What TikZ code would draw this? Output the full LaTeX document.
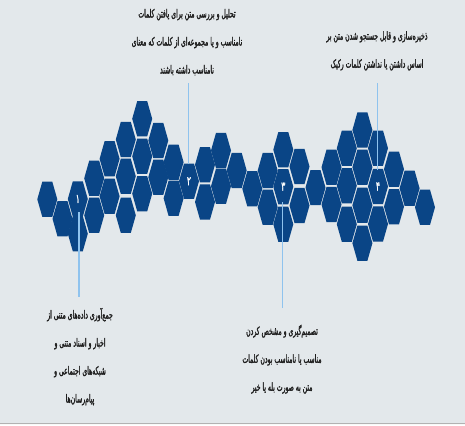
\documentclass[tikz,border=0pt]{standalone}
\usepackage{fontspec}
\TeXXeTstate=1
\newfontfamily\farsi[Script=Arabic,FakeStretch=0.54,FakeBold=1.7]{DejaVu Sans}
\newfontfamily\farsinum[Script=Arabic,FakeStretch=0.6,FakeBold=1.5]{DejaVu Sans}
\definecolor{bgc}{HTML}{E3E8EB}
\definecolor{hexc}{HTML}{0A4586}
\definecolor{linec}{HTML}{8FC3EE}
\definecolor{txtc}{HTML}{1E1E1E}
\tikzset{
  hexa/.pic={\fill[hexc] (-10,0) -- (-5,-17.6) -- (5,-17.6) -- (10,0) -- (5,17.6) -- (-5,17.6) -- cycle;},
  conn/.style={draw=linec,line width=1.4pt},
  stepnote/.style={font=\farsi\fontsize{11.3}{28}\selectfont, align=center, text=txtc, inner sep=0pt},
  hexnum/.style={font=\farsinum\fontsize{12.5}{14}\selectfont, text=white, inner sep=0pt},
}
\begin{document}
\begin{tikzpicture}[x=1pt,y=-1pt]
\useasboundingbox (0,0) rectangle (465,425);
\fill[bgc] (0,0) rectangle (465,423);
\fill[gray!60] (0,423) rectangle (465,424);
\fill[white!95!gray] (0,424) rectangle (465,425);
% hexagons
\foreach \x/\y in {
 47.3/199.3, 62.5/218.8, 77.8/199, 77.8/233.7,
 94.2/178.3, 94.2/215.3, 109.6/158.8, 109.6/196.3,
 125.8/139.5, 125.8/176.3, 125.8/215.3,
 142.2/118.8, 142.2/156.3, 142.2/193.7,
 158.3/140.5, 158.3/177.3, 173.6/162.2, 173.6/198.3,
 189/181.2, 205/164.8, 205/202, 221/150.5, 221/186.2,
 236.7/170.5, 252.3/188.8, 267.7/170.5, 267.7/207.3,
 283.3/149.7, 283.3/186.7, 283.3/224.2,
 299.5/166.5, 299.5/205.5, 315.5/187.6,
 331.5/167.3, 331.5/204.5,
 346.8/148.2, 346.8/185.7, 346.8/224.2,
 362.4/130, 362.4/167.2, 362.4/205.3, 362.4/243.2,
 378/148.2, 378/186.5, 378/224,
 394/169.2, 394/206.7, 409.6/188.3, 425/207.3}
 {\pic at (\x,\y) {hexa};}
% numbers
\node[hexnum] (n1) at (77.8,199) {۱};
\node[hexnum] (n2) at (189,181.2) {۲};
\node[hexnum] (n3) at (283.3,186.7) {۳};
\node[hexnum] (n4) at (378,186.5) {۴};
% connector end points
\coordinate (a1) at (79,212);   \coordinate (b1) at (79,297);
\coordinate (a2) at (188.5,164); \coordinate (b2) at (188.5,83);
\coordinate (a3) at (282.7,202); \coordinate (b3) at (282.7,308);
\coordinate (a4) at (377.7,170); \coordinate (b4) at (377.7,83);
\draw[conn] (a1) -- (b1);
\draw[conn] (a2) -- (b2);
\draw[conn] (a3) -- (b3);
\draw[conn] (a4) -- (b4);
% texts
\node[stepnote] (t1) at (80,356.7) {\beginR جمع^^^^200cآوری داده^^^^200cهای متنی از\endR\\ \beginR اخبار و اسناد متنی و\endR\\ \beginR شبکه^^^^200cهای اجتماعی و\endR\\ \beginR پیام^^^^200cرسان^^^^200cها\endR};
\node[stepnote] (t2) at (187,42.2) {\beginR تحلیل و بررسی متن برای یافتن کلمات\endR\\ \beginR نامناسب و یا مجموعه^^^^200cای از کلمات که معنای\endR\\ \beginR نامناسب داشته باشند\endR};
\node[stepnote] (t3) at (282,359.2) {\beginR تصمیم^^^^200cگیری و مشخص کردن\endR\\ \beginR مناسب یا نامناسب بودن کلمات\endR\\ \beginR متن به صورت بله یا خیر\endR};
\node[stepnote] (t4) at (377,50.8) {\beginR ذخیره^^^^200cسازی و قابل جستجو شدن متن بر\endR\\ \beginR اساس داشتن یا نداشتن کلمات رکیک\endR};
\end{tikzpicture}
\end{document}
